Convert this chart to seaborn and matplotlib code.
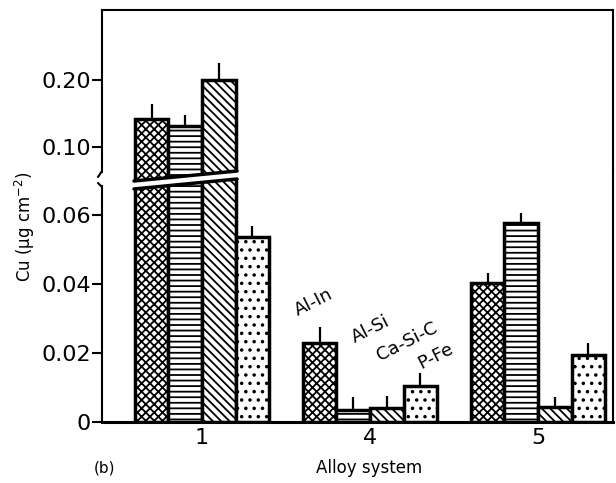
import matplotlib
matplotlib.use('Agg')
import matplotlib.pyplot as plt
from matplotlib.patches import Polygon
from matplotlib.lines import Line2D
import seaborn as sns
import numpy as np
import pandas as pd

# data (Cu, ug cm-2)
systems = ['1', '4', '5']
coatings = ['Al-In', 'Al-Si', 'Ca-Si-C', 'P-Fe']
cu_1 = [0.142, 0.131, 0.200, 0.0536]
cu_4 = [0.0229, 0.0035, 0.0041, 0.0104]
cu_5 = [0.0403, 0.0577, 0.0043, 0.0194]
err_1 = [0.022, 0.017, 0.025, 0.0032]
err_4 = [0.0046, 0.0037, 0.0034, 0.0038]
err_5 = [0.0029, 0.0029, 0.0029, 0.0035]
hatches = ['xxxx', '---', '\\\\\\\\', '..']

rows = []
for s, vals, errs in zip(systems, [cu_1, cu_4, cu_5], [err_1, err_4, err_5]):
    for c, v, e in zip(coatings, vals, errs):
        rows.append({'system': s, 'coating': c, 'cu': v, 'err': e})
df = pd.DataFrame(rows)

sns.set_style('ticks')
plt.rcParams['font.family'] = ['DejaVu Sans']
plt.rcParams['hatch.linewidth'] = 1.3
for k in ['text.color', 'axes.labelcolor', 'xtick.color', 'ytick.color',
          'axes.edgecolor']:
    plt.rcParams[k] = 'black'

W, H = 616, 483
fig = plt.figure(figsize=(W / 100, H / 100), dpi=100)

def fx(px):
    return px / W

def fy(py):
    return 1 - py / H

left, right = 102, 613
ax_lo = fig.add_axes([fx(left), fy(422), fx(right - left), (422 - 168) / H])
ax_hi = fig.add_axes([fx(left), fy(172), fx(right - left), (172 - 10) / H])

for ax in (ax_lo, ax_hi):
    sns.barplot(data=df, x='system', y='cu', hue='coating', order=systems,
                hue_order=coatings, palette=['white'] * 4, saturation=1,
                edgecolor='black', linewidth=2.5, width=0.8, gap=0,
                legend=False, errorbar=None, ax=ax)
    for cont, h in zip(ax.containers, hatches):
        for bar in cont:
            bar.set_hatch(h)
    # one-sided error bars (upward only)
    for cont, c in zip(ax.containers, coatings):
        sub = df[df.coating == c].set_index('system').loc[systems]
        xs = [b.get_x() + b.get_width() / 2 for b in cont]
        ax.errorbar(xs, sub['cu'], yerr=[np.zeros(len(xs)), sub['err']],
                    fmt='none', ecolor='black', elinewidth=1.6, capsize=0)
    ax.set_xlim(-0.595, 2.446)
    ax.set_xlabel('')
    ax.set_ylabel('')
    for sp in ax.spines.values():
        sp.set_linewidth(1.5)
        sp.set_visible(True)
    ax.tick_params(axis='y', direction='out', length=7, width=1.5,
                   labelsize=16, pad=1)

ax_lo.set_ylim(0, (422 - 168) / 3450)
ax_lo.set_yticks([0, 0.02, 0.04, 0.06])
ax_lo.set_yticklabels(['0', '0.02', '0.04', '0.06'])
ax_lo.spines['top'].set_visible(False)
ax_lo.spines['bottom'].set_linewidth(2.2)
ax_lo.spines['left'].set_bounds(0, (422 - 186) / 3450)
ax_lo.tick_params(axis='x', length=0, labelsize=16, pad=4)

ax_hi.set_ylim(0.10 - (172 - 147) / 670, 0.10 + (147 - 10) / 670)
ax_hi.set_yticks([0.10, 0.20])
ax_hi.set_yticklabels(['0.10', '0.20'])
ax_hi.spines['bottom'].set_visible(False)
ax_hi.set_xticks([])

# slanted break across the tall bars
band = Polygon([(fx(132), fy(181.5)), (fx(239), fy(171.5)),
                (fx(239), fy(178.5)), (fx(132), fy(188.5))],
               closed=True, transform=fig.transFigure, facecolor='white',
               edgecolor='none', zorder=5)
fig.add_artist(band)
for y0, y1 in [(181, 171), (189, 179)]:
    fig.add_artist(Line2D([fx(134), fx(237)], [fy(y0), fy(y1)], color='black',
                          lw=2.5, transform=fig.transFigure, zorder=6))
# break hooks on the y axis
fig.add_artist(Line2D([fx(102), fx(98)], [fy(171), fy(177)], color='black',
                      lw=1.5, transform=fig.transFigure, zorder=6))
fig.add_artist(Line2D([fx(102), fx(98)], [fy(187), fy(183)], color='black',
                      lw=1.5, transform=fig.transFigure, zorder=6))

# coating labels above system 4
label_pos = [(0.583, 0.0296), (0.923, 0.0220), (1.07, 0.0166), (1.315, 0.0142)]
for c, (x, y) in zip(coatings, label_pos):
    ax_lo.text(x, y, c, rotation=27, rotation_mode='anchor', ha='left',
               va='bottom', fontsize=13)

fig.text(fx(25), fy(227), 'Cu (\u00b5g cm$^{-2}$)', rotation=90, ha='center',
         va='center', fontsize=12)
fig.text(fx(369), fy(468), 'Alloy system', ha='center', va='center', fontsize=12)
fig.text(fx(105), fy(468), '(b)', ha='center', va='center', fontsize=11)

fig.savefig('out.png', dpi=100)
